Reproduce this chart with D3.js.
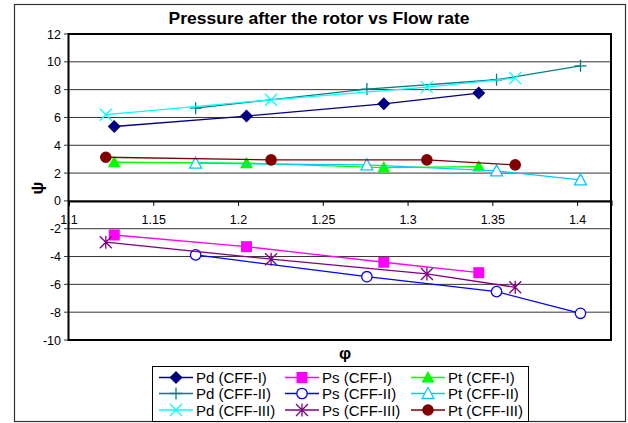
<!DOCTYPE html>
<html>
<head>
    <title>Pressure after the rotor vs Flow rate</title>
    <script src="https://d3js.org/d3.v7.min.js"></script>
    <style>
        body {
            margin: 0;
            background-color: #ffffff;
            font-family: Arial, "Liberation Sans", sans-serif;
        }
    </style>
</head>
<body>
<div id="chart"></div>
<script>
    // flow coefficient (phi) of each configuration
    const phiCFF1 = [1.127, 1.205, 1.286, 1.342];
    const phiCFF2 = [1.175, 1.276, 1.3525, 1.402];
    const phiCFF3 = [1.122, 1.2195, 1.3114, 1.3635];

    // pressure coefficients (psi)
    const pdCFF1 = [5.35, 6.1, 6.98, 7.75];
    const pdCFF2 = [6.67, 8.04, 8.71, 9.71];
    const pdCFF3 = [6.2, 7.27, 8.18, 8.83];
    const psCFF1 = [-2.45, -3.29, -4.41, -5.16];
    const psCFF2 = [-3.88, -5.45, -6.52, -8.08];
    const psCFF3 = [-2.97, -4.19, -5.25, -6.21];
    const ptCFF1 = [2.78, 2.71, 2.4, 2.47];
    const ptCFF2 = [2.71, 2.59, 2.16, 1.51];
    const ptCFF3 = [3.14, 2.95, 2.95, 2.59];

    const xTicks = [1.1, 1.15, 1.2, 1.25, 1.3, 1.35, 1.4];
    const xTickLabels = ["1.1", "1.15", "1.2", "1.25", "1.3", "1.35", "1.4"];
    const yTicks = [-10, -8, -6, -4, -2, 0, 2, 4, 6, 8, 10, 12];

    // legend order is row by row
    const seriesNames = ["Pd (CFF-I)", "Ps (CFF-I)", "Pt (CFF-I)",
        "Pd (CFF-II)", "Ps (CFF-II)", "Pt (CFF-II)",
        "Pd (CFF-III)", "Ps (CFF-III)", "Pt (CFF-III)"];
    const seriesX = [phiCFF1, phiCFF1, phiCFF1, phiCFF2, phiCFF2, phiCFF2, phiCFF3, phiCFF3, phiCFF3];
    const seriesY = [pdCFF1, psCFF1, ptCFF1, pdCFF2, psCFF2, ptCFF2, pdCFF3, psCFF3, ptCFF3];
    const seriesColors = ["#000080", "#ff00ff", "#00ff00",
        "#008080", "#0000ff", "#00ccff",
        "#00ffff", "#800080", "#800000"];
    const seriesMarkers = ["diamond", "square", "triangle",
        "plus", "circleOpen", "triangleOpen",
        "cross", "star", "circle"];

    const width = 628;
    const height = 423;

    const svg = d3.select("#chart")
        .append("svg")
        .attr("width", width)
        .attr("height", height);

    // outer chart border
    svg.append("rect")
        .attr("x", 14.5).attr("y", 4.5)
        .attr("width", 611).attr("height", 417)
        .attr("fill", "#ffffff")
        .attr("stroke", "#333333")
        .attr("stroke-width", 1.2);

    const x = d3.scaleLinear().domain([1.1, 1.42]).range([68.5, 611]);
    const y = d3.scaleLinear().domain([-10, 12]).range([340, 34]);

    // gridlines
    svg.append("g")
        .selectAll("line")
        .data(yTicks)
        .enter()
        .append("line")
        .attr("x1", 64).attr("x2", 611)
        .attr("y1", d => y(d)).attr("y2", d => y(d))
        .attr("stroke", "#333333")
        .attr("stroke-width", 1);

    // y tick labels
    svg.append("g")
        .selectAll("text")
        .data(yTicks)
        .enter()
        .append("text")
        .attr("x", 61)
        .attr("y", d => y(d) + 4.5)
        .attr("text-anchor", "end")
        .style("font-size", "12.5px")
        .text(d => d);

    // x axis through psi = 0
    const xAxis = d3.axisBottom(x)
        .tickValues(xTicks)
        .tickFormat((d, i) => xTickLabels[i])
        .tickSize(5)
        .tickPadding(9);

    const gx = svg.append("g")
        .attr("transform", "translate(0," + y(0) + ")")
        .call(xAxis);
    gx.select(".domain").attr("stroke", "#000").attr("stroke-width", 2);
    gx.selectAll(".tick line").attr("stroke", "#000").attr("stroke-width", 1);
    gx.selectAll(".tick text")
        .attr("fill", "#000")
        .style("font-family", "Arial, 'Liberation Sans', sans-serif")
        .style("font-size", "12.5px");

    // plot area frame
    svg.append("rect")
        .attr("x", 68.5).attr("y", 34)
        .attr("width", 542.5).attr("height", 306)
        .attr("fill", "none")
        .attr("stroke", "#000")
        .attr("stroke-width", 2);

    // marker shapes
    function markerPath(type) {
        const p = d3.path();
        if (type === "diamond") {
            p.moveTo(0, -6.5); p.lineTo(6.5, 0); p.lineTo(0, 6.5); p.lineTo(-6.5, 0); p.closePath();
        } else if (type === "square") {
            p.rect(-5.5, -5.5, 11, 11);
        } else if (type === "triangle") {
            p.moveTo(0, -6.5); p.lineTo(6.5, 5); p.lineTo(-6.5, 5); p.closePath();
        } else if (type === "triangleOpen") {
            p.moveTo(0, -6); p.lineTo(6, 5); p.lineTo(-6, 5); p.closePath();
        } else if (type === "circle") {
            p.arc(0, 0, 5.8, 0, 2 * Math.PI);
        } else if (type === "circleOpen") {
            p.arc(0, 0, 5.2, 0, 2 * Math.PI);
        } else if (type === "plus") {
            p.moveTo(-6, 0); p.lineTo(6, 0); p.moveTo(0, -6); p.lineTo(0, 6);
        } else if (type === "cross") {
            p.moveTo(-6, -6); p.lineTo(6, 6); p.moveTo(6, -6); p.lineTo(-6, 6);
        } else if (type === "star") {
            p.moveTo(-6, -6); p.lineTo(6, 6); p.moveTo(6, -6); p.lineTo(-6, 6);
            p.moveTo(0, -6.5); p.lineTo(0, 6.5);
        }
        return p.toString();
    }

    function markerStyle(sel, type, color) {
        const filled = ["diamond", "square", "triangle", "circle"].includes(type);
        sel.attr("d", markerPath(type))
            .attr("fill", filled ? color : (type.endsWith("Open") ? "#ffffff" : "none"))
            .attr("stroke", color)
            .attr("stroke-width", filled ? 0 : 1.3);
    }

    const line = d3.line()
        .x(d => x(d[0]))
        .y(d => y(d[1]));

    // draw each series
    seriesNames.forEach(function (name, i) {
        const pts = seriesX[i].map((v, j) => [v, seriesY[i][j]]);
        const g = svg.append("g");
        g.append("path")
            .datum(pts)
            .attr("d", line)
            .attr("fill", "none")
            .attr("stroke", seriesColors[i])
            .attr("stroke-width", 1.3);
        g.selectAll("path.mark")
            .data(pts)
            .enter()
            .append("path")
            .attr("class", "mark")
            .attr("transform", d => "translate(" + x(d[0]) + "," + y(d[1]) + ")")
            .call(markerStyle, seriesMarkers[i], seriesColors[i]);
    });

    // title
    svg.append("text")
        .attr("x", 319).attr("y", 24)
        .attr("text-anchor", "middle")
        .attr("textLength", 301)
        .attr("lengthAdjust", "spacingAndGlyphs")
        .style("font-size", "16.5px")
        .style("font-weight", "bold")
        .text("Pressure after the rotor vs Flow rate");

    // axis titles
    svg.append("text")
        .attr("transform", "translate(43,188) rotate(-90)")
        .attr("text-anchor", "middle")
        .style("font-size", "17px")
        .style("font-weight", "bold")
        .text("ψ");

    svg.append("text")
        .attr("x", 345).attr("y", 359)
        .attr("text-anchor", "middle")
        .style("font-size", "17px")
        .style("font-weight", "bold")
        .text("φ");

    // legend
    const legend = svg.append("g");
    legend.append("rect")
        .attr("x", 152.5).attr("y", 366.5)
        .attr("width", 376).attr("height", 55)
        .attr("fill", "#ffffff")
        .attr("stroke", "#000")
        .attr("stroke-width", 1);

    const colStart = [159, 285, 411];
    const rowY = [377.5, 393.5, 410];

    seriesNames.forEach(function (name, i) {
        const cx = colStart[i % 3];
        const cy = rowY[Math.floor(i / 3)];
        legend.append("line")
            .attr("x1", cx).attr("x2", cx + 34)
            .attr("y1", cy).attr("y2", cy)
            .attr("stroke", seriesColors[i])
            .attr("stroke-width", 1.5);
        legend.append("path")
            .attr("transform", "translate(" + (cx + 17) + "," + cy + ")")
            .call(markerStyle, seriesMarkers[i], seriesColors[i]);
        legend.append("text")
            .attr("x", cx + 37)
            .attr("y", cy + 5.5)
            .style("font-size", "15px")
            .text(name);
    });
</script>
</body>
</html>
